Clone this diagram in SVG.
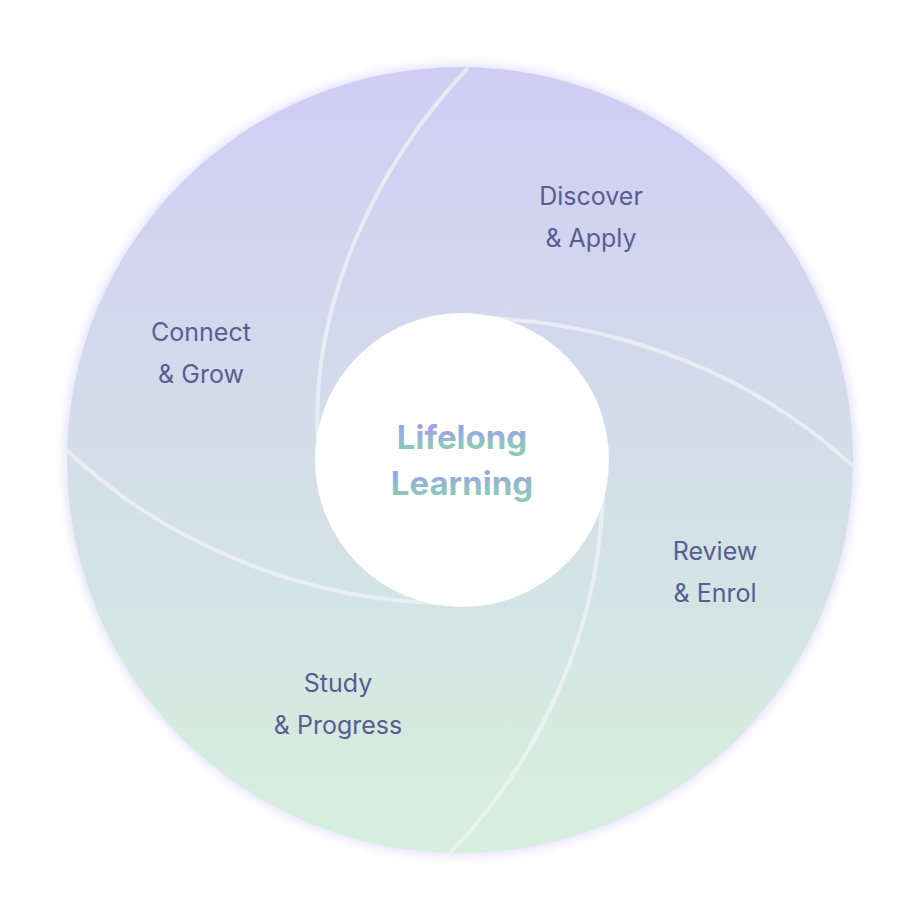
<svg xmlns="http://www.w3.org/2000/svg" width="920" height="920" viewBox="0 0 920 920">
<defs>
<linearGradient id="bg" x1="0" y1="0" x2="0" y2="1"><stop offset="0" stop-color="#d0cdf4"/><stop offset="1" stop-color="#d6efdd"/></linearGradient>
<linearGradient id="tg" x1="0" y1="0" x2="0" y2="1"><stop offset="0.3" stop-color="#9ea4e2"/><stop offset="0.7" stop-color="#8ec6bc"/></linearGradient>
<filter id="glow" x="-10%" y="-10%" width="120%" height="120%"><feGaussianBlur stdDeviation="5"/></filter>
<style>.lbl{font-family:Inter,"Noto Sans",sans-serif;font-size:25px;fill:#5a5c92;text-anchor:middle}.c{fill:none;stroke:#f2f2f6;stroke-opacity:0.75;stroke-width:4}.ct{font-family:Inter,"Noto Sans",sans-serif;font-size:33px;font-weight:700;fill:url(#tg);text-anchor:middle}</style>
</defs>
<circle cx="460" cy="460" r="396" fill="#e6e2ff" filter="url(#glow)"/>
<circle id="ring" cx="460" cy="460" r="393" fill="url(#bg)"/>
<g id="connectors">
<path class="c" d="M318,440 C310,300 380,160 468,68"/>
<path class="c" d="M490,318 C630,325 760,380 853,466"/>
<path class="c" d="M603,490 C600,630 540,760 450,853"/>
<path class="c" d="M440,603 C300,600 160,540 67,450"/>
</g>
<g id="center"><circle cx="462" cy="460" r="147" fill="#fff"/>
<text class="ct" x="462" y="449">Lifelong</text><text class="ct" x="462" y="495">Learning</text></g>
<g id="discover"><text class="lbl" x="591" y="205">Discover</text><text class="lbl" x="591" y="247">&amp; Apply</text></g>
<g id="connect"><text class="lbl" x="201" y="341">Connect</text><text class="lbl" x="201" y="383">&amp; Grow</text></g>
<g id="review"><text class="lbl" x="715" y="560">Review</text><text class="lbl" x="715" y="602">&amp; Enrol</text></g>
<g id="study"><text class="lbl" x="338" y="692">Study</text><text class="lbl" x="338" y="734">&amp; Progress</text></g>
</svg>
